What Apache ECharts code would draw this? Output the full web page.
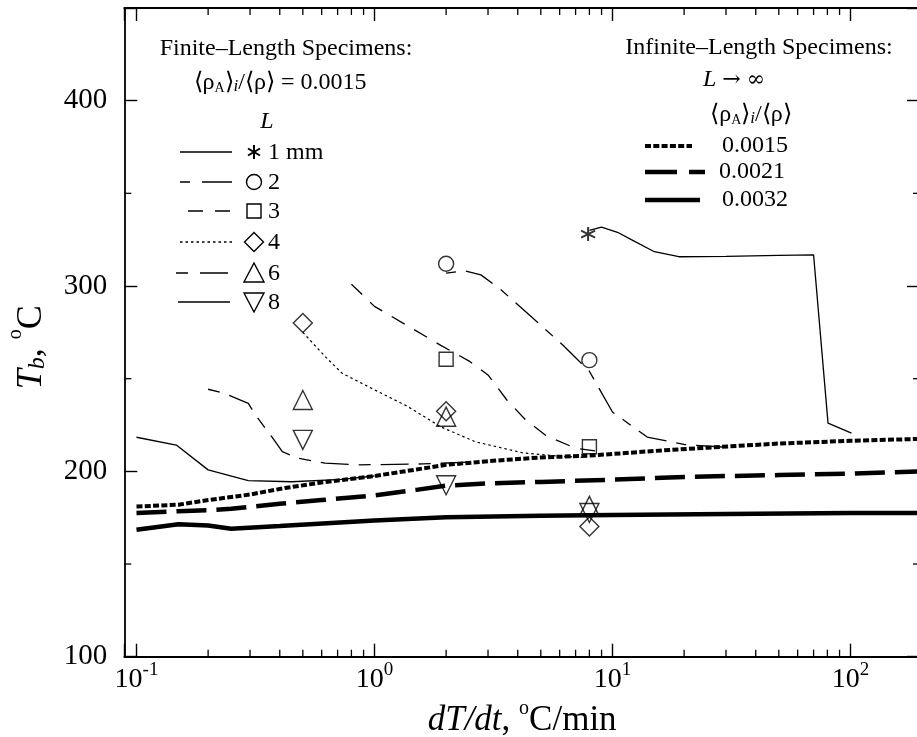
<!DOCTYPE html>
<html>
<head>
<meta charset="utf-8">
<script src="https://cdn.jsdelivr.net/npm/echarts@6/dist/echarts.min.js"></script>
<style>
  html, body { margin: 0; padding: 0; background: #fff; }
  #chart { width: 917px; height: 737px; }
</style>
</head>
<body>
<div id="chart"></div>
<script>
// ---- data ----
// finite-length specimens, <rhoA>i/<rho> = 0.0015
var L1x = [8, 9, 10.5, 12, 15, 19, 30, 50, 70, 80.5, 101];
var L1y = [330, 331.8, 329, 325, 318.5, 315.8, 316, 316.5, 316.8, 226, 220.6];
var L2x = [2, 2.4, 2.8, 3.4, 4.6, 6.2, 8, 10, 14, 20, 30];
var L2y = [307, 308.2, 306, 298, 283, 268, 254, 232, 218.5, 214.5, 213];
var L3x = [0.8, 1, 1.4, 1.9, 2.5, 3, 3.6, 4.3, 5.3, 7, 9];
var L3y = [301, 289, 278, 268, 259.5, 252, 238.5, 228, 219, 212.5, 210.5];
var L4x = [0.5, 0.62, 0.73, 1, 1.38, 1.9, 2.65, 4.2, 6.2, 7.5];
var L4y = [275, 262, 253, 244, 235, 224, 216, 210, 208, 207.5];
var L6x = [0.2, 0.235, 0.295, 0.32, 0.37, 0.41, 0.48, 0.62, 0.85, 1.6, 2.5];
var L6y = [244.3, 242, 236.7, 229.5, 218.7, 210.6, 207, 204.4, 203.5, 204, 205];
var L8x = [0.1, 0.147, 0.2, 0.295, 0.45, 0.73, 1.0];
var L8y = [218.4, 214.2, 200.8, 195, 194.4, 195.7, 197.5];

// measured points (markers)
var starPts = [[7.9, 328]];
var circlePts = [[2, 312], [8, 260]];
var squarePts = [[2, 260.5], [8, 213.3]];
var diamondPts = [[0.5, 280], [2, 232.4], [8, 170.3]];
var triUpPts = [[0.5, 238.5], [2, 229.5], [8, 181.4]];
var triDownPts = [[0.5, 217], [2, 192.5], [8, 177.5]];

// infinite-length specimens
var I15x = [0.1, 0.15, 0.2, 0.3, 0.42, 0.6, 1, 1.5, 2, 3, 5, 8, 15, 25, 50, 100, 196];
var I15y = [181, 182, 184.5, 187.5, 191, 194, 197.5, 201, 203.5, 205.5, 207.5, 208.5, 211, 212.8, 215, 216.5, 217.5];
var I21x = [0.1, 0.15, 0.2, 0.25, 0.4, 0.6, 1, 1.5, 2, 3, 5, 10, 20, 50, 100, 196];
var I21y = [177.5, 178.5, 179, 179.8, 182.5, 184.5, 187, 190, 192.3, 193.5, 194.3, 195.5, 197, 198, 198.8, 200];
var I32x = [0.1, 0.15, 0.2, 0.25, 0.4, 1, 2, 5, 10, 30, 100, 196];
var I32y = [168.5, 171.5, 170.8, 169, 170.5, 173.5, 175.2, 176, 176.5, 177, 177.5, 177.5];

// axis ticks
var xMinorTicks = [0.2, 0.3, 0.4, 0.5, 0.6, 0.7, 0.8, 0.9, 2, 3, 4, 5, 6, 7, 8, 9,
                   20, 30, 40, 50, 60, 70, 80, 90];
var yMinorTicks = [150, 250, 350];

var FONT = 'Liberation Serif';
var X_MIN = 0.08888, X_MAX = 196;
var Y_MIN = 100, Y_MAX = 450;

function zip(xs, ys) {
  return xs.map(function (x, i) { return [x, ys[i]]; });
}

function curve(name, xs, ys, width, dash) {
  return {
    name: name,
    type: 'line',
    data: zip(xs, ys),
    showSymbol: false,
    symbol: 'none',
    lineStyle: { color: '#000', width: width, type: dash || 'solid', cap: 'butt' },
    z: 3
  };
}

function marks(name, pts, symbol, size, rotate, bw) {
  return {
    name: name,
    type: 'scatter',
    data: pts,
    symbol: symbol,
    symbolSize: size,
    symbolRotate: rotate || 0,
    itemStyle: { color: 'rgba(0,0,0,0)', borderColor: '#000', borderWidth: bw || 1.4 },
    z: 5
  };
}

var starPath = 'path://M0,-10 L0,10 M-8.66,-5 L8.66,5 M-8.66,5 L8.66,-5';

// ---- legend drawn with graphic elements ----
var g = [];
function txt(x, y, text, align, rich, size) {
  g.push({
    type: 'text', x: x, y: y, z: 20,
    style: {
      text: text, fill: '#000', align: align || 'left', verticalAlign: 'middle',
      fontFamily: FONT, fontSize: size || 24, rich: rich
    }
  });
}
function seg(x1, x2, y, width, dash) {
  g.push({
    type: 'line', z: 20,
    shape: { x1: x1, y1: y, x2: x2, y2: y },
    style: { stroke: '#000', lineWidth: width, lineDash: dash || null }
  });
}
function sym(kind, cx, cy) {
  var st = { fill: 'none', stroke: '#000', lineWidth: 1.4 };
  var e;
  if (kind === 'star') {
    var ps = [[0, -7, 0, 7], [-6, -3.5, 6, 3.5], [-6, 3.5, 6, -3.5]];
    ps.forEach(function (p) {
      g.push({ type: 'line', z: 20, shape: { x1: cx + p[0], y1: cy + p[1], x2: cx + p[2], y2: cy + p[3] },
        style: { stroke: '#000', lineWidth: 2 } });
    });
    return;
  }
  if (kind === 'circle') e = { type: 'circle', shape: { cx: cx, cy: cy, r: 7.5 } };
  if (kind === 'rect') e = { type: 'rect', shape: { x: cx - 7, y: cy - 7, width: 14, height: 14 } };
  if (kind === 'diamond') e = { type: 'polygon', shape: { points: [[cx, cy - 9.5], [cx + 9.5, cy], [cx, cy + 9.5], [cx - 9.5, cy]] } };
  if (kind === 'up') e = { type: 'polygon', shape: { points: [[cx, cy - 10], [cx + 10, cy + 9], [cx - 10, cy + 9]] } };
  if (kind === 'down') e = { type: 'polygon', shape: { points: [[cx, cy + 10], [cx + 10, cy - 9], [cx - 10, cy - 9]] } };
  e.z = 20;
  e.style = st;
  g.push(e);
}

var richRho = {
  n: { fontFamily: FONT, fontSize: 24 },
  a: { fontFamily: FONT, fontSize: 14, verticalAlign: 'bottom' },
  i: { fontFamily: FONT, fontSize: 17, fontStyle: 'italic', verticalAlign: 'bottom' },
  it: { fontFamily: FONT, fontSize: 24, fontStyle: 'italic' },
  ar: { fontFamily: 'DejaVu Serif', fontSize: 22 }
};
var rhoText = '{n|\u27e8\u03c1}{a|A}{n|\u27e9}{i|i}{n|/\u27e8\u03c1\u27e9}';

txt(286, 49, 'Finite\u2013Length Specimens:', 'center');
txt(280, 83, rhoText + '{n| = 0.0015}', 'center', richRho);
txt(267, 122, '{it|L}', 'center', richRho);

var leftRows = [
  { y: 152, label: '1 mm', kind: 'star', x1: 180, x2: 232, dash: null },
  { y: 182, label: '2', kind: 'circle', x1: 180, x2: 232, dash: [10, 12, 30, 12] },
  { y: 211, label: '3', kind: 'rect', x1: 188, x2: 232, dash: [15, 12] },
  { y: 242, label: '4', kind: 'diamond', x1: 180, x2: 232, dash: [2.5, 3] },
  { y: 273, label: '6', kind: 'up', x1: 176, x2: 228, dash: [12, 12, 28, 12] },
  { y: 302, label: '8', kind: 'down', x1: 178, x2: 230, dash: null }
];
leftRows.forEach(function (r) {
  seg(r.x1, r.x2, r.y, 1.3, r.dash);
  sym(r.kind, 254, r.y);
  txt(268, r.y + 1, r.label, 'left');
});

txt(759, 48, 'Infinite\u2013Length Specimens:', 'center');
txt(734, 80, '{it|L}{n| }{ar|\u2192}{n| }{ar|\u221e}', 'center', richRho);
txt(751, 115, rhoText, 'center', richRho);
seg(645, 692, 146, 4, [6, 2.3]);
seg(645, 705, 172, 4.5, [32, 12]);
seg(645, 700, 200, 4.5, null);
txt(722, 146, '0.0015', 'left');
txt(719, 172, '0.0021', 'left');
txt(722, 200, '0.0032', 'left');

// ---- chart ----
var chart = echarts.init(document.getElementById('chart'));

function isDecade(v) {
  var l = Math.log10(v);
  return Math.abs(l - Math.round(l)) < 1e-6;
}

var option = {
  backgroundColor: '#fff',
  animation: false,
  grid: { left: 124.3, top: 8, width: 795.7, height: 648.7, containLabel: false, outerBoundsMode: 'none' },
  xAxis: [{
    type: 'log', logBase: 10, min: X_MIN, max: X_MAX,
    position: 'bottom',
    axisLine: { lineStyle: { color: '#000', width: 1.8 } },
    axisTick: { inside: true, length: 13, lineStyle: { color: '#000', width: 1.4 } },
    splitLine: { show: false },
    axisLabel: {
      margin: 4, color: '#000',
      formatter: function (v) {
        if (!isDecade(v)) return '';
        return '{b|10}{e|' + Math.round(Math.log10(v)) + '}';
      },
      rich: {
        b: { fontFamily: FONT, fontSize: 28, color: '#000', padding: [5, 0, 0, 0] },
        e: { fontFamily: FONT, fontSize: 19, color: '#000', verticalAlign: 'top' }
      }
    },
    name: '{it|dT/dt}{n|, }{s|o}{n|C/min}',
    nameLocation: 'middle', nameGap: 22,
    nameTextStyle: {
      rich: {
        it: { fontFamily: FONT, fontSize: 35, fontStyle: 'italic', color: '#000', padding: [5, 0, 0, 0] },
        n: { fontFamily: FONT, fontSize: 35, color: '#000', padding: [5, 0, 0, 0] },
        s: { fontFamily: FONT, fontSize: 20, color: '#000', verticalAlign: 'top' }
      }
    }
  }, {
    type: 'log', logBase: 10, min: X_MIN, max: X_MAX,
    position: 'top',
    axisLine: { lineStyle: { color: '#000', width: 1.8 } },
    axisTick: { inside: true, length: 13, lineStyle: { color: '#000', width: 1.4 } },
    axisLabel: { show: false },
    splitLine: { show: false }
  }],
  yAxis: [{
    type: 'value', min: Y_MIN, max: Y_MAX, interval: 100,
    position: 'left',
    axisLine: { show: true, lineStyle: { color: '#000', width: 1.8 } },
    axisTick: { show: true, inside: true, length: 13, lineStyle: { color: '#000', width: 1.4 } },
    splitLine: { show: false },
    axisLabel: {
      margin: 17, color: '#000', fontFamily: FONT, fontSize: 29,
      formatter: function (v) { return v % 100 === 0 ? String(v) : ''; }
    },
    name: '{it|T}{sb|b}{n|, }{s|o}{n|C}',
    nameLocation: 'middle', nameRotate: 90, nameGap: 75,
    nameTextStyle: {
      padding: [0, 30, 0, 0],
      rich: {
        it: { fontFamily: FONT, fontSize: 36, fontStyle: 'italic', color: '#000', padding: [8, 0, 0, 0] },
        sb: { fontFamily: FONT, fontSize: 24, fontStyle: 'italic', color: '#000', verticalAlign: 'bottom' },
        n: { fontFamily: FONT, fontSize: 36, color: '#000', padding: [8, 0, 0, 0] },
        s: { fontFamily: FONT, fontSize: 20, color: '#000', verticalAlign: 'top' }
      }
    }
  }, {
    type: 'value', min: Y_MIN, max: Y_MAX, interval: 100,
    position: 'right',
    axisLine: { show: true, lineStyle: { color: '#000', width: 1.8 } },
    axisTick: { show: true, inside: true, length: 13, lineStyle: { color: '#000', width: 1.4 } },
    splitLine: { show: false },
    axisLabel: { show: false }
  }],
  graphic: g,
  series: [
    curve('L1', L1x, L1y, 1.3),
    curve('L2', L2x, L2y, 1.3, [10, 10, 30, 10]),
    curve('L3', L3x, L3y, 1.3, [15, 11]),
    curve('L4', L4x, L4y, 1.2, [2.5, 3]),
    curve('L6', L6x, L6y, 1.3, [12, 10, 28, 10]),
    curve('L8', L8x, L8y, 1.3),
    curve('inf0015', I15x, I15y, 4, [6, 2.3]),
    curve('inf0021', I21x, I21y, 4.5, [30, 10]),
    curve('inf0032', I32x, I32y, 4.5),
    marks('star', starPts, starPath, 14, 0, 2),
    marks('circle', circlePts, 'circle', 15),
    marks('square', squarePts, 'rect', 14),
    marks('diamond', diamondPts, 'diamond', 19),
    marks('triUp', triUpPts, 'triangle', 19),
    marks('triDown', triDownPts, 'triangle', 19, 180),
    {
      // minor ticks of the log x axis (bottom and top)
      type: 'custom',
      data: xMinorTicks.map(function (v) { return [v, Y_MIN]; }),
      clip: false, silent: true, z: 4,
      renderItem: function (params, api) {
        var p = api.coord([api.value(0), Y_MIN]);
        var top = params.coordSys.y;
        var st = { stroke: '#000', lineWidth: 1.3 };
        return { type: 'group', children: [
          { type: 'line', shape: { x1: p[0], y1: p[1], x2: p[0], y2: p[1] - 7 }, style: st },
          { type: 'line', shape: { x1: p[0], y1: top, x2: p[0], y2: top + 7 }, style: st }
        ] };
      }
    },
    {
      // minor ticks of the y axis (left and right)
      type: 'custom',
      data: yMinorTicks.map(function (v) { return [X_MIN, v]; }),
      clip: false, silent: true, z: 4,
      renderItem: function (params, api) {
        var p = api.coord([X_MIN, api.value(1)]);
        var right = params.coordSys.x + params.coordSys.width;
        var st = { stroke: '#000', lineWidth: 1.3 };
        return { type: 'group', children: [
          { type: 'line', shape: { x1: p[0], y1: p[1], x2: p[0] + 7, y2: p[1] }, style: st },
          { type: 'line', shape: { x1: right, y1: p[1], x2: right - 7, y2: p[1] }, style: st }
        ] };
      }
    }
  ]
};

chart.setOption(option);
</script>
</body>
</html>
